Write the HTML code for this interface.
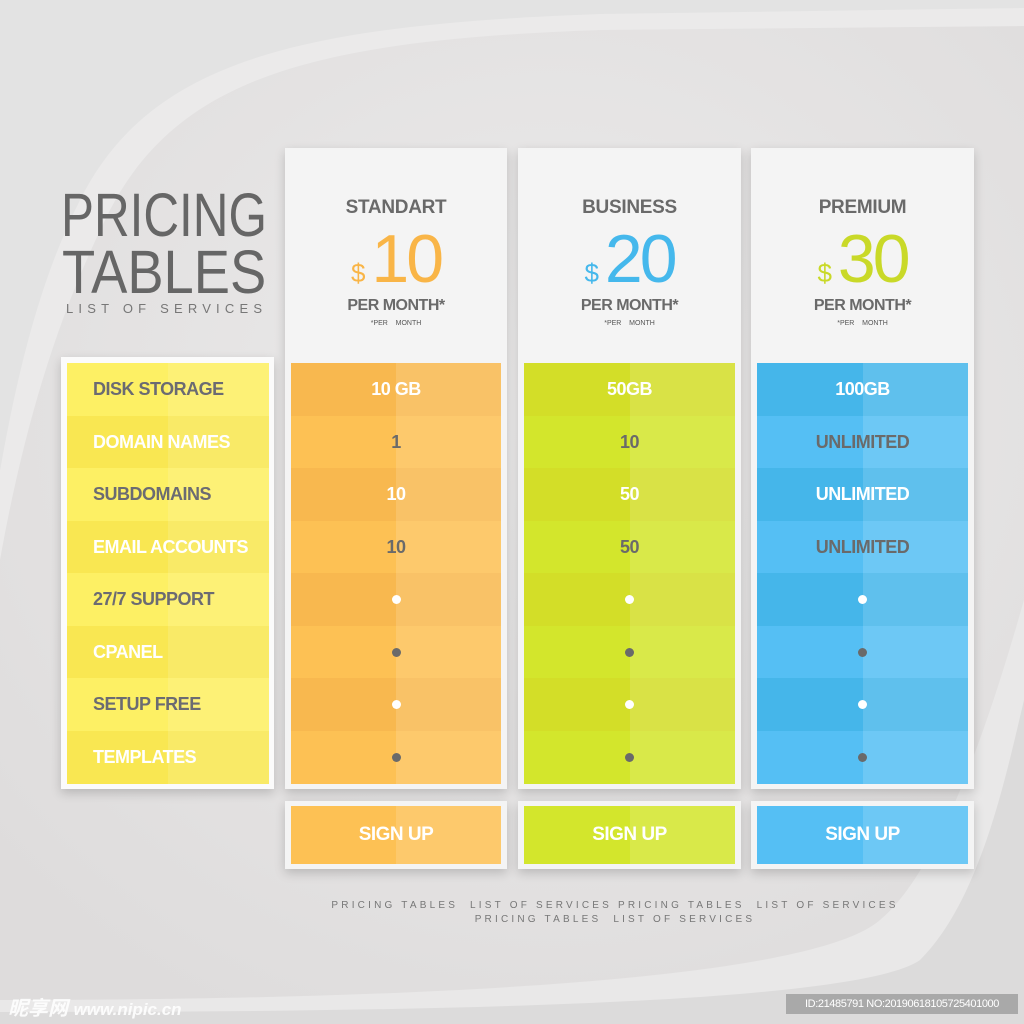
<!DOCTYPE html>
<html><head><meta charset="utf-8"><style>
*{margin:0;padding:0;box-sizing:border-box}
body{width:1024px;height:1024px;overflow:hidden;background:#e4e3e3;font-family:"Liberation Sans",sans-serif;position:relative}
.abs{position:absolute}
.card{position:absolute;background:#f4f4f4;box-shadow:0 4px 10px rgba(0,0,0,.18)}
.row{position:absolute;display:flex;align-items:center;justify-content:center;font-weight:bold;font-size:18px;letter-spacing:-0.5px}
.half{position:absolute;top:0;bottom:0;right:0;width:50%;background:rgba(255,255,255,.14)}
.dot{width:9px;height:9px;border-radius:50%}
.hdr{position:absolute;text-align:center;color:#6a6a6a;font-weight:bold}
</style></head><body>
<svg class="abs" width="1024" height="1024" style="left:0;top:0">
<defs><radialGradient id="g" cx="0.55" cy="0.4" r="0.7"><stop offset="0" stop-color="#ecebeb"/><stop offset="1" stop-color="#dedcdc"/></radialGradient></defs>
<rect width="1024" height="1024" fill="#e3e3e3"/>
<path d="M1024,8 L600,14 C300,25 150,60 80,200 C30,300 5,420 -20,600 L-20,1024 L1024,1024 Z" fill="#ebeaea"/>
<path d="M1024,26 L600,30 C320,40 180,75 110,210 C60,310 25,420 0,560 L-30,1000 L1024,1000 Z" fill="url(#g)"/>
<path d="M0,1024 L0,1000 C300,1000 800,990 880,920 C940,870 990,720 1024,600 L1024,1024 Z" fill="#e9e8e8"/>
<path d="M0,1024 L0,1012 C300,1012 850,1010 920,960 C980,900 1005,780 1024,700 L1024,1024 Z" fill="#dcdbdb"/>
</svg>

<div class="abs" style="left:61px;top:184px;font-size:61px;color:#666;line-height:62px;transform:scaleX(0.81);transform-origin:left top">PRICING</div>
<div class="abs" style="left:62px;top:241px;font-size:61px;color:#666;line-height:62px;transform:scaleX(0.89);transform-origin:left top">TABLES</div>
<div class="abs" style="left:66px;top:301px;font-size:13px;color:#777;letter-spacing:5.2px">LIST OF SERVICES</div>

<div class="card" style="left:61px;top:357px;width:213px;height:432px;background:#fbfbfb"></div>
<div class="card" style="left:285px;top:148px;width:222px;height:641px"></div>
<div class="card" style="left:518px;top:148px;width:223px;height:641px"></div>
<div class="card" style="left:751px;top:148px;width:223px;height:641px"></div>
<div class="card" style="left:285px;top:801px;width:222px;height:68px"></div>
<div class="card" style="left:518px;top:801px;width:223px;height:68px"></div>
<div class="card" style="left:751px;top:801px;width:223px;height:68px"></div>

<div id="host"></div>

<div class="abs" style="left:300px;top:899px;width:630px;text-align:center;font-size:10px;color:#777;letter-spacing:3.2px;line-height:14px">PRICING TABLES &nbsp;LIST OF SERVICES PRICING TABLES &nbsp;LIST OF SERVICES<br>PRICING TABLES &nbsp;LIST OF SERVICES</div>
<div class="abs" style="left:8px;top:992px;font-size:20px;color:#fff;font-style:italic;font-weight:bold;font-family:'Liberation Sans','Noto Sans CJK SC',sans-serif;opacity:.9">昵享网 <span style="font-size:17px">www.nipic.cn</span></div>
<div class="abs" style="left:786px;top:994px;width:232px;height:20px;background:#a9a9a9;color:#fff;font-size:11px;line-height:20px;text-align:center;letter-spacing:-0.4px">ID:21485791 NO:20190618105725401000</div>

<script>
const features=["DISK STORAGE","DOMAIN NAMES","SUBDOMAINS","EMAIL ACCOUNTS","27/7 SUPPORT","CPANEL","SETUP FREE","TEMPLATES"];
const plans=["STANDART","BUSINESS","PREMIUM"];
const prices=["10","20","30"];
const standartVals=["10 GB","1","10","10","•","•","•","•"];
const businessVals=["50GB","10","50","50","•","•","•","•"];
const premiumVals=["100GB","UNLIMITED","UNLIMITED","UNLIMITED","•","•","•","•"];
const vals=[standartVals,businessVals,premiumVals];
const colX=[291,524,757],colW=[210,211,211];
const priceCol=["#f9b547","#45b8ec","#c9d928"];
const rowA=["#f8b84f","#d3de28","#45b6ea"],rowB=["#fdc154","#d3e62c","#55bff4"];
const host=document.getElementById('host');
const top0=363,rh=52.5;
function mk(cls,st){const d=document.createElement('div');d.className=cls;d.style.cssText=st;host.appendChild(d);return d;}
features.forEach((f,i)=>{
 const d=mk('row',`left:67px;top:${top0+i*rh}px;width:202px;height:${rh+0.5}px;justify-content:flex-start;padding-left:26px;background:${i%2?'#f9e752':'#fdf064'};color:${i%2?'#fff':'#6b6b72'}`);
 
 
 const h=document.createElement('div');h.className='half';h.style.background='rgba(255,255,255,.12)';d.appendChild(h);
 const s=document.createElement('span');s.textContent=f;s.style.position='relative';d.appendChild(s);
});
plans.forEach((p,c)=>{
 const x=colX[c]-6,w=colW[c]+12;
 const t=mk('hdr',`left:${x}px;top:197px;width:${w}px;font-size:19px;letter-spacing:-0.3px`);t.textContent=p;
 
 
 const pr=mk('hdr',`left:${x}px;top:224px;width:${w}px;font-weight:normal;color:${priceCol[c]};line-height:70px;font-size:68px;letter-spacing:-3px`);
 pr.innerHTML='<span style="font-size:26px;letter-spacing:0;margin-right:6px">$</span>'+prices[c];
 
 
 const pm=mk('hdr',`left:${x}px;top:297px;width:${w}px;font-size:16px;letter-spacing:-0.5px`);pm.textContent='PER MONTH*';
 
 
 const sm=mk('hdr',`left:${x}px;top:320px;width:${w}px;font-size:7px;font-weight:normal;color:#555`);sm.innerHTML='*PER &nbsp;&nbsp; MONTH';
 
 
 vals[c].forEach((v,i)=>{
  const col=i%2?'#6a6a6a':'#fff';
  const d=mk('row',`left:${colX[c]}px;top:${top0+i*rh}px;width:${colW[c]}px;height:${rh+0.5}px;background:${i%2?rowB[c]:rowA[c]};color:${col}`);
  
  
  const h=document.createElement('div');h.className='half';d.appendChild(h);
  if(v==='•'){const o=document.createElement('div');o.className='dot';o.style.background=col;o.style.position='relative';d.appendChild(o);}
  else{const s=document.createElement('span');s.textContent=v;s.style.position='relative';d.appendChild(s);}
 });
 const b=mk('row',`left:${colX[c]}px;top:806px;width:${colW[c]}px;height:58px;background:${rowB[c]};color:#fff;font-size:19px;cursor:pointer`);
 
 
 const h=document.createElement('div');h.className='half';b.appendChild(h);
 const s=document.createElement('span');s.textContent='SIGN UP';s.style.position='relative';b.appendChild(s);
});
</script>
</body></html>
